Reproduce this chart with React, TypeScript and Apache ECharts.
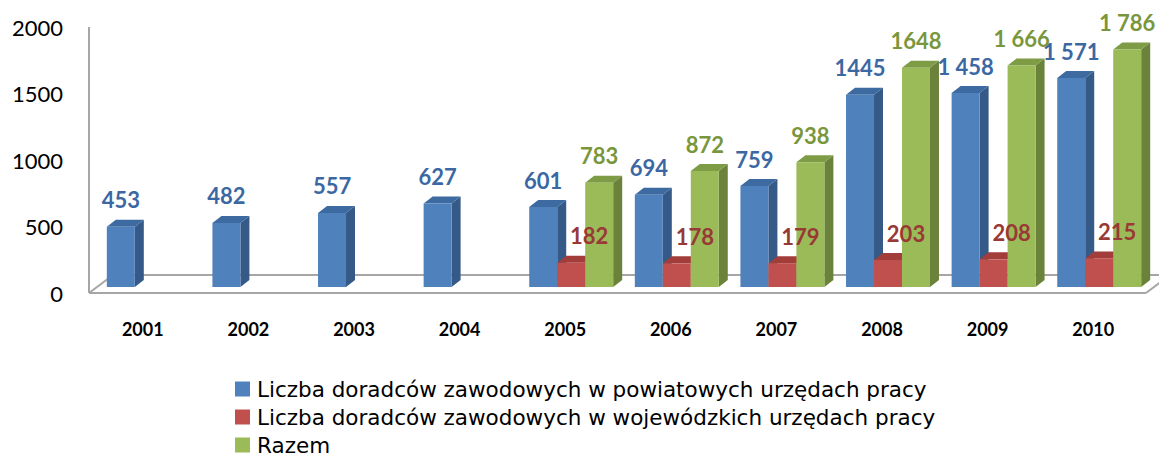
import React, { useEffect, useRef } from "react";
import * as echarts from "echarts";

const categories = ["2001", "2002", "2003", "2004", "2005", "2006", "2007", "2008", "2009", "2010"];
const powiatowe = [453, 482, 557, 627, 601, 694, 759, 1445, 1458, 1571];
const wojewodzkie = [null, null, null, null, 182, 178, 179, 203, 208, 215];
const razem = [null, null, null, null, 783, 872, 938, 1648, 1666, 1786];
const powiatoweLabels = ["453", "482", "557", "627", "601", "694", "759", "1445", "1 458", "1 571"];
const wojewodzkieLabels = ["", "", "", "", "182", "178", "179", "203", "208", "215"];
const razemLabels = ["", "", "", "", "783", "872", "938", "1648", "1 666", "1 786"];
const yTicks = [0, 500, 1000, 1500, 2000];

const seriesNames = [
  "Liczba doradców zawodowych w powiatowych urzędach pracy",
  "Liczba doradców zawodowych w wojewódzkich urzędach pracy",
  "Razem",
];

const FONT = "Lato, 'Open Sans', sans-serif";
const LEGEND_FONT = "'DejaVu Sans', sans-serif";

type Look = { front: string; side: string; top: string; label: string; labelDx: number };
const looks: Look[] = [
  { front: "#4F81BD", side: "#355A87", top: "#3D6AA0", label: "#3B68A3", labelDx: 0 },
  { front: "#C0504D", side: "#8B3634", top: "#A33D3A", label: "#983936", labelDx: 18 },
  { front: "#9BBB59", side: "#6A823A", top: "#7E9B46", label: "#7A963C", labelDx: 0 },
];

function makeRender(slot: number, labels: string[]) {
  const look = looks[slot];
  return (params: any, api: any) => {
    const ci = api.value(0);
    const v = api.value(1);
    if (v == null || isNaN(v)) return null;
    const base = api.coord([ci, 0]);
    const tip = api.coord([ci, v]);
    const band = api.size([1, 0])[0];
    const w = band * 0.265;
    const ox = 6;
    const oy = -6;
    const dx = 9;
    const dy = -7;
    const x0 = base[0] + ox - 1.5 * w + slot * w;
    const yBot = base[1] + oy;
    const yTop = tip[1] + oy;
    const children: any[] = [
      {
        type: "polygon",
        shape: { points: [[x0 + w, yTop], [x0 + w + dx, yTop + dy], [x0 + w + dx, yBot + dy], [x0 + w, yBot]] },
        style: { fill: look.side },
      },
      {
        type: "polygon",
        shape: { points: [[x0, yTop], [x0 + dx, yTop + dy], [x0 + w + dx, yTop + dy], [x0 + w, yTop]] },
        style: { fill: look.top },
      },
      {
        type: "rect",
        shape: { x: x0, y: yTop, width: w, height: yBot - yTop },
        style: { fill: look.front },
      },
      {
        type: "text",
        z2: 100,
        style: {
          text: labels[ci],
          x: x0 + w / 2 + look.labelDx,
          y: yTop - 27,
          align: "center",
          verticalAlign: "middle",
          fill: look.label,
          font: `bold 22px ${FONT}`,
        },
      },
    ];
    return { type: "group", children };
  };
}

function floorRender(params: any, api: any) {
  const cs = params.coordSys;
  const L = cs.x - 1;
  const R = cs.x + cs.width;
  const T = cs.y;
  const B = cs.y + cs.height;
  const fx = 24;
  const fy = -18;
  const st = { stroke: "#A6A6A6", lineWidth: 2, fill: null };
  const ln = (x1: number, y1: number, x2: number, y2: number) => ({
    type: "line",
    shape: { x1, y1, x2, y2 },
    style: st,
  });
  return {
    type: "group",
    children: [
      ln(L + fx, B + fy, R + fx, B + fy),
      ln(L, B, L + fx, B + fy),
      ln(R, B, R + fx, B + fy),
      ln(L, B, R, B),
      ln(L, T, L, B),
    ],
  };
}

export default function App() {
  const ref = useRef<HTMLDivElement>(null);
  useEffect(() => {
    if (!ref.current) return;
    const chart = echarts.init(ref.current, undefined, { renderer: "svg" });
    const toData = (arr: (number | null)[]) =>
      arr.map((v, i) => (v == null ? null : [i, v])).filter((d) => d != null);
    const legendTops = [378, 406, 434];
    chart.setOption({
      animation: false,
      backgroundColor: "#ffffff",
      grid: { left: 90, top: 27, width: 1056, height: 266 },
      xAxis: {
        type: "category",
        data: categories,
        axisLine: { show: false },
        axisTick: { show: false },
        axisLabel: { fontFamily: FONT, fontWeight: "bold", fontSize: 18, color: "#000", margin: 27 },
      },
      yAxis: {
        type: "value",
        min: yTicks[0],
        max: yTicks[yTicks.length - 1],
        interval: 500,
        axisLine: { show: false },
        axisTick: { show: false },
        splitLine: { show: false },
        axisLabel: {
          fontFamily: FONT,
          fontSize: 22,
          color: "#000",
          margin: 27,
          formatter: (v: number) => String(v),
        },
      },
      legend: seriesNames.map((name, i) => ({
        data: [name],
        orient: "vertical",
        left: 235,
        top: legendTops[i],
        padding: 0,
        icon: "rect",
        itemWidth: 15,
        itemHeight: 15,
        selectedMode: false,
        textStyle: {
          fontFamily: LEGEND_FONT,
          fontSize: 21.5,
          color: "#000",
          lineHeight: 18,
          padding: [0, 0, 0, 2],
        },
      })),
      series: [
        {
          type: "custom",
          name: "floor",
          silent: true,
          data: [[0, 0]],
          renderItem: floorRender,
        },
        {
          type: "custom",
          name: seriesNames[0],
          itemStyle: { color: looks[0].front },
          data: toData(powiatowe),
          renderItem: makeRender(0, powiatoweLabels),
        },
        {
          type: "custom",
          name: seriesNames[1],
          itemStyle: { color: looks[1].front },
          data: toData(wojewodzkie),
          renderItem: makeRender(1, wojewodzkieLabels),
        },
        {
          type: "custom",
          name: seriesNames[2],
          itemStyle: { color: looks[2].front },
          data: toData(razem),
          renderItem: makeRender(2, razemLabels),
        },
      ],
    });
    return () => chart.dispose();
  }, []);
  return (
    <div
      ref={ref}
      style={{ position: "fixed", left: 0, top: 0, width: 1159, height: 457, background: "#fff" }}
    />
  );
}
